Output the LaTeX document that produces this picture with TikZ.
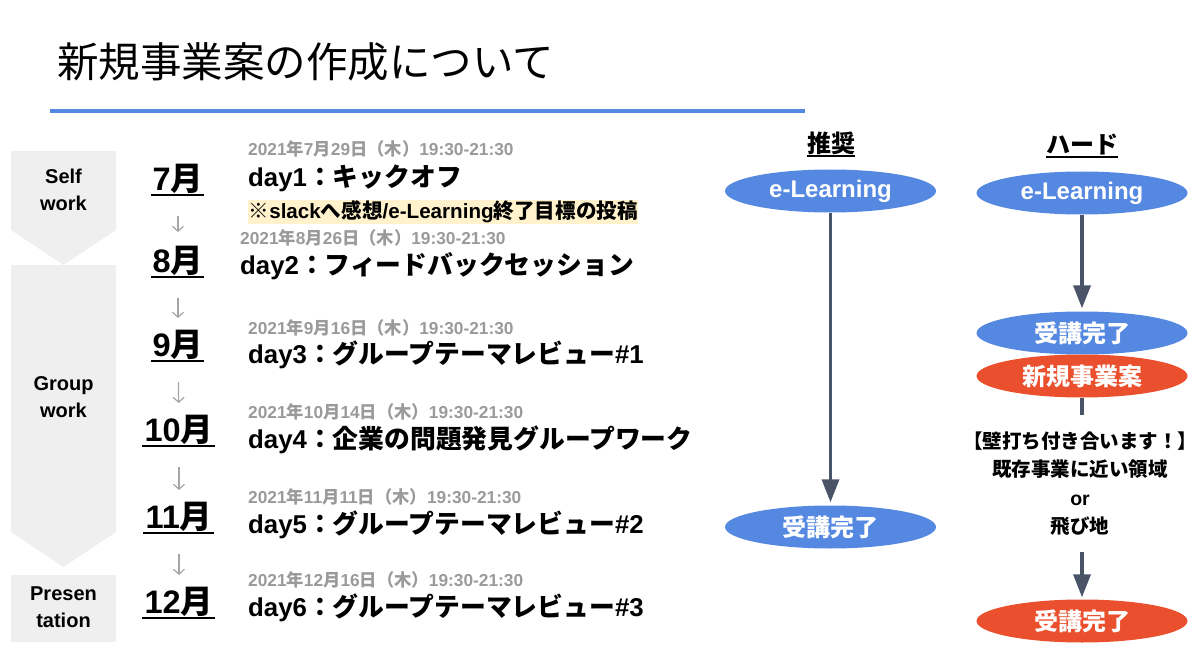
\documentclass[tikz,border=0pt]{standalone}
\usepackage{fontspec}
\setmainfont{Liberation Sans}
\newfontfamily\jpfont{Noto Sans CJK JP}
\newcommand\jpt[1]{{\jpfont #1}}
\usetikzlibrary{shapes.geometric,arrows.meta}
\definecolor{ovblue}{HTML}{5588E0}
\definecolor{ovred}{HTML}{EA502D}
\definecolor{slate}{HTML}{4A5468}
\definecolor{phasegray}{HTML}{EFEFEF}
\definecolor{dategray}{HTML}{9A9A9A}
\definecolor{hlyellow}{HTML}{FFF2CC}
\definecolor{thinarrow}{HTML}{A5A5A5}
\begin{document}
\begin{tikzpicture}[x=1pt,y=-1pt,
  datetxt/.style={anchor=west,inner sep=0,text=dategray,font=\bfseries\fontsize{17.3}{20}\selectfont},
  daytxt/.style={anchor=west,inner sep=0,text=black,font=\bfseries\fontsize{25.8}{30}\selectfont},
  montxt/.style={inner sep=0,text=black,font=\bfseries\fontsize{32.5}{34}\selectfont},
  hdrtxt/.style={inner sep=0,text=black,font=\bfseries\fontsize{24}{28}\selectfont},
  phasetxt/.style={inner sep=0,align=center,text=black,font=\bfseries\fontsize{20}{27}\selectfont},
  oval/.style={ellipse,minimum width=211,minimum height=43,inner sep=0,text=white,font=\bfseries\fontsize{24}{28}\selectfont},
  flow/.style={draw=slate,line width=3.5,-{Triangle[length=23pt,width=17pt]}},
  flowline/.style={draw=slate,line width=3.5},
  monthstep/.style={draw=thinarrow,line width=1.2,-{Straight Barb[length=5pt,width=11pt]}},
  ulline/.style={line width=2,black},
  notetxt/.style={inner sep=0,align=center,text=black,font=\bfseries\fontsize{19.5}{28.5}\selectfont}
]
\useasboundingbox (0,0) rectangle (1200,650);

% title
\node[anchor=west,inner sep=0,font=\jpfont\fontsize{41.5}{48}\selectfont] (title) at (57,62) {新規事業案の作成について};
\coordinate (ruleL) at (50,111);
\coordinate (ruleR) at (805,111);
\draw[ovblue,line width=4] (ruleL) -- (ruleR);

% phase arrows
\fill[phasegray] (11,151) -- (116,151) -- (116,230) -- (63.5,265) -- (11,230) -- cycle;
\fill[phasegray] (11,265) -- (116,265) -- (116,532) -- (63.5,567) -- (11,532) -- cycle;
\fill[phasegray] (11,575) rectangle (116,642);
\node[phasetxt] (p1) at (63.5,190) {Self\\work};
\node[phasetxt] (p2) at (63.5,397) {Group\\work};
\node[phasetxt] (p3) at (63.5,607) {Presen\\tation};

% months
\node[montxt] (m7) at (178,179) {7\jpt{月}};
\node[montxt] (m8) at (178,261) {8\jpt{月}};
\node[montxt] (m9) at (178,345) {9\jpt{月}};
\node[montxt] (m10) at (179,430) {10\jpt{月}};
\node[montxt] (m11) at (179,517) {11\jpt{月}};
\node[montxt] (m12) at (179,602) {12\jpt{月}};
\foreach \m in {m7,m8,m9,m10,m11,m12}{
  \draw[ulline] ([xshift=-2pt,yshift=-1pt]\m.south west) -- ([xshift=1pt,yshift=-1pt]\m.south east);
}
\draw[monthstep,shorten <=22pt,shorten >=14pt] (m7) -- (m8);
\draw[monthstep,shorten <=22pt,shorten >=12pt] (m8) -- (m9);
\draw[monthstep,shorten <=22pt,shorten >=12pt] (m9) -- (m10);
\draw[monthstep,shorten <=22pt,shorten >=12pt] (m10) -- (m11);
\draw[monthstep,shorten <=22pt,shorten >=12pt] (m11) -- (m12);

% schedule
\node[datetxt] (d1) at (248,149) {2021\jpt{年}7\jpt{月}29\jpt{日（木）}19:30-21:30};
\node[daytxt] (t1) at (248,178) {day1\jpt{：キックオフ}};
\node[anchor=west,inner sep=0.5pt,fill=hlyellow,text=black,font=\bfseries\fontsize{20.6}{24}\selectfont] (hl) at (248,212) {\jpt{※}slack\jpt{へ感想}/e-Learning\jpt{終了目標の投稿}};
\node[datetxt] (d2) at (240,238) {2021\jpt{年}8\jpt{月}26\jpt{日（木）}19:30-21:30};
\node[daytxt] (t2) at (240,266) {day2\jpt{：フィードバックセッション}};
\node[datetxt] (d3) at (248,328) {2021\jpt{年}9\jpt{月}16\jpt{日（木）}19:30-21:30};
\node[daytxt] (t3) at (248,355) {day3\jpt{：グループテーマレビュー}\#1};
\node[datetxt] (d4) at (248,412) {2021\jpt{年}10\jpt{月}14\jpt{日（木）}19:30-21:30};
\node[daytxt] (t4) at (248,440) {day4\jpt{：企業の問題発見グループワーク}};
\node[datetxt] (d5) at (248,497) {2021\jpt{年}11\jpt{月}11\jpt{日（木）}19:30-21:30};
\node[daytxt] (t5) at (248,525) {day5\jpt{：グループテーマレビュー}\#2};
\node[datetxt] (d6) at (248,580) {2021\jpt{年}12\jpt{月}16\jpt{日（木）}19:30-21:30};
\node[daytxt] (t6) at (248,608) {day6\jpt{：グループテーマレビュー}\#3};

% right side headers
\node[hdrtxt] (h1) at (831,143) {\jpt{推奨}};
\node[hdrtxt] (h2) at (1082,145) {\jpt{ハード}};
\foreach \h in {h1,h2}{
  \draw[ulline] ([yshift=-1pt]\h.south west) -- ([yshift=-1pt]\h.south east);
}

% recommended path
\node[oval,fill=ovblue] (e1) at (830.5,191) {e-Learning};
\node[oval,fill=ovblue] (c1) at (830.5,527) {\jpt{受講完了}};
\draw[flow,shorten >=3pt] (e1) -- (c1);

% hard path
\node[oval,fill=ovblue] (e2) at (1082,193) {e-Learning};
\node[oval,fill=ovblue] (c2) at (1082,333) {\jpt{受講完了}};
\node[oval,fill=ovred] (n2) at (1082,376) {\jpt{新規事業案}};
\node[notetxt] (note) at (1080,483.5) {\jpt{【壁打ち付き合います！】}\\\jpt{既存事業に近い領域}\\or\\\jpt{飛び地}};
\node[oval,fill=ovred] (c3) at (1082,621) {\jpt{受講完了}};
\draw[flow,shorten >=3pt] (e2) -- (c2);
\coordinate (stub) at (1082,415);
\draw[flowline] (n2.south) -- (stub);
\coordinate (noteout) at (1082,552);
\draw[flow,shorten >=2pt] (noteout) -- (c3);
\end{tikzpicture}
\end{document}
